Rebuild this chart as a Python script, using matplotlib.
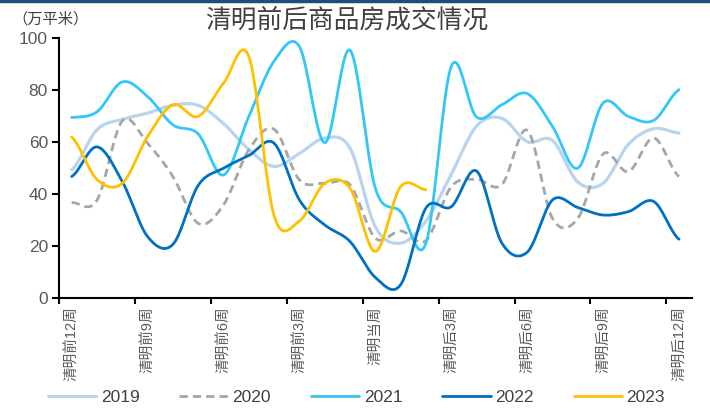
import numpy as np
import matplotlib
matplotlib.use("Agg")
import matplotlib.pyplot as plt
from matplotlib.lines import Line2D

plt.rcParams['font.family'] = ['Liberation Sans', 'Noto Sans CJK SC', 'DejaVu Sans']

categories = (["清明前%d周" % k for k in range(12, 0, -1)] + ["清明当周"] +
              ["清明后%d周" % k for k in range(1, 13)])

y2019 = [49.2, 64.6, 68.6, 71.0, 74.0, 74.0, 67.0, 57.0, 50.5, 55.5, 61.4, 57.5,
         27.3, 21.0, 29.5, 47.5, 66.0, 69.0, 60.0, 60.5, 44.5, 44.0, 59.0, 65.0, 63.3]
y2020 = [36.6, 37.5, 68.0, 59.4, 46.6, 28.6, 35.7, 56.9, 64.8, 45.3, 44.0, 43.4,
         22.9, 25.7, 22.0, 42.7, 45.5, 43.5, 64.4, 30.5, 30.5, 55.3, 48.5, 61.4, 46.6]
y2021 = [69.3, 71.5, 83.0, 77.4, 66.5, 63.0, 47.2, 69.7, 91.0, 96.6, 59.6, 95.2,
         42.1, 33.1, 21.0, 89.0, 69.5, 74.2, 78.5, 65.9, 49.8, 74.9, 69.7, 68.2, 80.0]
y2022 = [46.6, 58.0, 44.7, 23.5, 20.5, 43.2, 49.8, 54.7, 59.4, 37.6, 28.0, 21.6,
         7.8, 5.0, 34.5, 35.0, 48.7, 21.0, 17.5, 37.6, 34.7, 31.8, 33.1, 37.0, 22.5]
y2023 = [61.8, 45.5, 44.0, 62.0, 74.2, 69.7, 82.5, 92.8, 31.5, 29.5, 44.0, 42.1,
         17.8, 42.7, 41.5]

series = [("2019", y2019), ("2020", y2020), ("2021", y2021), ("2022", y2022), ("2023", y2023)]
colors = {"2019": "#B8D4EE", "2020": "#A6A6A6", "2021": "#33C7F7",
          "2022": "#0070C0", "2023": "#FFC000"}


def smooth(y, n=24):
    y = np.asarray(y, dtype=float)
    x = np.arange(len(y)) + 0.5
    yp = np.concatenate([[y[0]], y, [y[-1]]])
    xs, ys = [], []
    t = np.linspace(0, 1, n, endpoint=False)
    for i in range(len(y) - 1):
        p0, p1 = y[i], y[i + 1]
        m0 = (yp[i + 2] - yp[i]) / 2.0
        m1 = (yp[i + 3] - yp[i + 1]) / 2.0
        h00 = 2 * t**3 - 3 * t**2 + 1
        h10 = t**3 - 2 * t**2 + t
        h01 = -2 * t**3 + 3 * t**2
        h11 = t**3 - t**2
        xs.append(x[i] + t)
        ys.append(h00 * p0 + h10 * m0 + h01 * p1 + h11 * m1)
    xs.append([x[-1]])
    ys.append([y[-1]])
    return np.concatenate(xs), np.concatenate(ys)


fig = plt.figure(figsize=(7.1, 4.12), dpi=100)
ax = fig.add_axes([0.0831, 0.2774, 0.8911, 0.6311])

handles = []
for name, vals in series:
    sx, sy = smooth(vals)
    if name == "2020":
        ln, = ax.plot(sx, sy, color=colors[name], lw=2.0, dashes=(3.0, 1.8), label=name)
    elif name == "2019":
        ln, = ax.plot(sx, sy, color=colors[name], lw=2.3, label=name, solid_capstyle='round')
    else:
        ln, = ax.plot(sx, sy, color=colors[name], lw=2.0, label=name, solid_capstyle='round')
    handles.append(ln)

ax.set_xlim(0, 25)
ax.set_ylim(0, 100)
ax.set_yticks([0, 20, 40, 60, 80, 100])
ax.set_xticks(np.arange(0, 25, 3))
ax.set_xticklabels([])
ax.set_xticks(np.arange(0, 25, 3) + 0.5, minor=True)
ax.set_xticklabels([categories[i] for i in range(0, 25, 3)], minor=True,
                   rotation=90, fontsize=10.5, color='#595959')
ax.tick_params(axis='x', which='minor', length=0, pad=6)
ax.tick_params(axis='x', which='major', length=4, width=1.5, color='black', direction='out')
ax.tick_params(axis='y', length=5, width=1.5, color='black', direction='out',
               labelsize=12.5, labelcolor='#595959', pad=3)

for s in ['top', 'right']:
    ax.spines[s].set_visible(False)
for s in ['left', 'bottom']:
    ax.spines[s].set_linewidth(1.5)
    ax.spines[s].set_color('black')

fig.text(0.488, 0.951, "清明前后商品房成交情况", ha='center', va='center',
         fontsize=18.5, color='#404040', family=['Noto Sans CJK SC', 'DejaVu Sans'])
fig.text(0.018, 0.955, "（万平米）", ha='left', va='center',
         fontsize=11, color='#404040', family=['Noto Sans CJK SC', 'DejaVu Sans'])

fig.add_artist(Line2D([0, 1], [0.997, 0.997], transform=fig.transFigure,
                      color='#1F4E79', lw=2.5))

leg = fig.legend(handles=handles, loc='center', bbox_to_anchor=(0.502, 0.036), ncol=5,
                 frameon=False, fontsize=12.5, handlelength=2.8, handletextpad=0.25,
                 columnspacing=2.3, labelcolor='#404040')

fig.savefig("out.png", dpi=100)
